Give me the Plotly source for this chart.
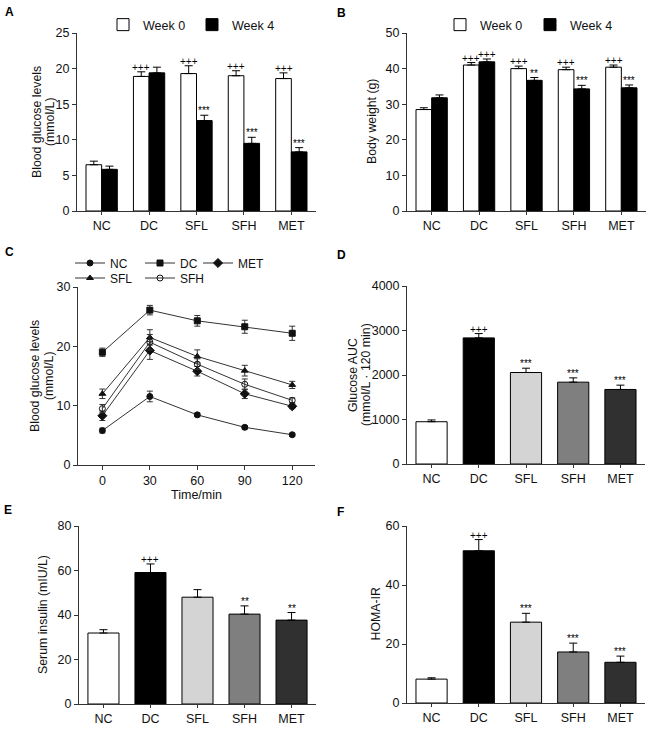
import plotly.graph_objects as go

W, H = 660, 733
groups = ["NC", "DC", "SFL", "SFH", "MET"]
group_colors = ["#ffffff", "#000000", "#d4d4d4", "#7f7f7f", "#303030"]

# Panel A: blood glucose (mmol/L)
glu_w0 = [6.5, 18.9, 19.3, 19.0, 18.6]
glu_w0_err = [0.5, 0.65, 1.1, 0.7, 0.8]
glu_w4 = [5.85, 19.4, 12.7, 9.5, 8.3]
glu_w4_err = [0.45, 0.8, 0.75, 0.85, 0.6]
glu_w0_sig = ["", "+++", "+++", "+++", "+++"]
glu_w4_sig = ["", "", "***", "***", "***"]

# Panel B: body weight (g)
bw_w0 = [28.5, 41.0, 40.0, 39.7, 40.4]
bw_w0_err = [0.5, 0.7, 0.7, 0.7, 0.6]
bw_w4 = [31.8, 41.9, 36.7, 34.3, 34.6]
bw_w4_err = [0.8, 0.8, 0.8, 1.0, 0.8]
bw_w0_sig = ["", "+++", "+++", "+++", "+++"]
bw_w4_sig = ["", "+++", "**", "***", "***"]

# Panel C: OGTT blood glucose (mmol/L)
time_min = [0, 30, 60, 90, 120]
ogtt_nc = [5.8, 11.55, 8.45, 6.35, 5.1]
ogtt_nc_err = [0.4, 0.9, 0.3, 0.3, 0.25]
ogtt_dc = [19.0, 26.1, 24.3, 23.3, 22.2]
ogtt_dc_err = [0.7, 0.8, 0.9, 1.1, 1.2]
ogtt_sfl = [12.0, 21.5, 18.3, 15.9, 13.5]
ogtt_sfl_err = [0.8, 1.3, 1.1, 0.9, 0.6]
ogtt_sfh = [9.5, 20.7, 17.0, 13.6, 10.9]
ogtt_sfh_err = [0.7, 1.3, 0.9, 0.9, 0.4]
ogtt_met = [8.3, 19.3, 15.8, 12.0, 9.9]
ogtt_met_err = [0.8, 1.5, 0.8, 0.8, 0.4]

# Panel D: glucose AUC
auc = [950, 2834, 2056, 1839, 1675]
auc_err = [40, 97, 97, 97, 97]
auc_sig = ["", "+++", "***", "***", "***"]

# Panel E: serum insulin (mIU/L)
insulin = [31.9, 59.1, 48.0, 40.4, 37.7]
insulin_err = [1.5, 3.85, 3.4, 3.7, 3.4]
insulin_sig = ["", "+++", "", "**", "**"]

# Panel F: HOMA-IR
homa = [8.1, 51.6, 27.4, 17.3, 13.8]
homa_err = [0.45, 3.8, 3.0, 3.0, 2.1]
homa_sig = ["", "+++", "***", "***", "***"]

FONT = "Arial, Liberation Sans, sans-serif"
AX = "#333333"
TXT = "#111111"

fig = go.Figure()

def px_x(a, b):
    return [a / W, b / W]

def px_y(top, bottom):
    return [1 - bottom / H, 1 - top / H]

domains = {
    "A": (px_x(77, 316), px_y(33, 211)),
    "B": (px_x(407, 646), px_y(33, 211)),
    "C": (px_x(78, 315), px_y(287, 465)),
    "D": (px_x(407, 645), px_y(286, 464)),
    "E": (px_x(79, 316), px_y(526, 704)),
    "F": (px_x(407, 645), px_y(526, 703)),
}
axis_ids = {"A": 1, "B": 2, "C": 3, "D": 4, "E": 5, "F": 6}

def err(arr):
    return dict(type="data", symmetric=False, array=arr, arrayminus=[0] * len(arr),
                color="#000000", thickness=1, width=4)

def xa(k):
    n = axis_ids[k]
    return "x" if n == 1 else f"x{n}"

def ya(k):
    n = axis_ids[k]
    return "y" if n == 1 else f"y{n}"

idx = list(range(len(groups)))
off = 0.165

# A
fig.add_trace(go.Bar(x=[i - off for i in idx], y=glu_w0, width=0.33, name="Week 0",
                     marker=dict(color="#ffffff", line=dict(color="#000000", width=1)),
                     error_y=err(glu_w0_err), xaxis=xa("A"), yaxis=ya("A"), legend="legend"))
fig.add_trace(go.Bar(x=[i + off for i in idx], y=glu_w4, width=0.33, name="Week 4",
                     marker=dict(color="#000000", line=dict(color="#000000", width=1)),
                     error_y=err(glu_w4_err), xaxis=xa("A"), yaxis=ya("A"), legend="legend"))
# B
fig.add_trace(go.Bar(x=[i - off for i in idx], y=bw_w0, width=0.33, name="Week 0",
                     marker=dict(color="#ffffff", line=dict(color="#000000", width=1)),
                     error_y=err(bw_w0_err), xaxis=xa("B"), yaxis=ya("B"), legend="legend2"))
fig.add_trace(go.Bar(x=[i + off for i in idx], y=bw_w4, width=0.33, name="Week 4",
                     marker=dict(color="#000000", line=dict(color="#000000", width=1)),
                     error_y=err(bw_w4_err), xaxis=xa("B"), yaxis=ya("B"), legend="legend2"))

# C
series_c = [
    ("NC", ogtt_nc, ogtt_nc_err, "circle", "legend3"),
    ("DC", ogtt_dc, ogtt_dc_err, "square", "legend3"),
    ("MET", ogtt_met, ogtt_met_err, "diamond", "legend5"),
    ("SFL", ogtt_sfl, ogtt_sfl_err, "triangle-up", "legend4"),
    ("SFH", ogtt_sfh, ogtt_sfh_err, "circle-open", "legend4"),
]
for name, vals, errs, sym, lg in series_c:
    fig.add_trace(go.Scatter(
        x=time_min, y=vals, name=name, mode="lines+markers",
        line=dict(color="#333333", width=1),
        marker=dict(symbol=sym, size=6 if sym != "diamond" else 7, color="#111111",
                    line=dict(color="#111111", width=1)),
        error_y=dict(type="data", array=errs, color="#333333", thickness=1, width=3),
        xaxis=xa("C"), yaxis=ya("C"), legend=lg))

# D, E, F
for k, vals, errs in [("D", auc, auc_err), ("E", insulin, insulin_err), ("F", homa, homa_err)]:
    fig.add_trace(go.Bar(x=idx, y=vals, width=0.66, showlegend=False,
                         marker=dict(color=group_colors, line=dict(color="#000000", width=1)),
                         error_y=err(errs), xaxis=xa(k), yaxis=ya(k)))

annotations = []

def sig_notes(k, xs, vals, errs, sigs):
    for x, v, e, s in zip(xs, vals, errs, sigs):
        if s:
            annotations.append(dict(x=x, y=v + e, xref=xa(k), yref=ya(k), text=s,
                                    showarrow=False, yanchor="bottom", yshift=-3,
                                    font=dict(size=10, color="#000000", family=FONT)))

sig_notes("A", [i - off for i in idx], glu_w0, glu_w0_err, glu_w0_sig)
sig_notes("A", [i + off for i in idx], glu_w4, glu_w4_err, glu_w4_sig)
sig_notes("B", [i - off for i in idx], bw_w0, bw_w0_err, bw_w0_sig)
sig_notes("B", [i + off for i in idx], bw_w4, bw_w4_err, bw_w4_sig)
sig_notes("D", idx, auc, auc_err, auc_sig)
sig_notes("E", idx, insulin, insulin_err, insulin_sig)
sig_notes("F", idx, homa, homa_err, homa_sig)

letters = [("A", 3, 12), ("B", 335, 13), ("C", 3, 252), ("D", 335, 255), ("E", 2, 510), ("F", 335, 512)]
for t, x, y in letters:
    annotations.append(dict(x=x / W, y=1 - y / H, xref="paper", yref="paper", text=f"<b>{t}</b>",
                            showarrow=False, xanchor="left", yanchor="middle",
                            font=dict(size=12, color="#000000", family=FONT)))

# y-axis titles (rotated text, one entry per line), centred on each panel's plot area
ytitle_lines = {
    "A": [("Blood glucose levels", 37), ("(mmol/L)", 50)],
    "B": [("Body weight (g)", 372)],
    "C": [("Blood glucose levels", 35), ("(mmol/L)", 49)],
    "D": [("Glucose AUC", 353), ("(mmol/L · 120 min)", 366)],
    "E": [("Serum insulin (mIU/L)", 43)],
    "F": [("HOMA-IR", 375)],
}
for k, lines in ytitle_lines.items():
    yd = domains[k][1]
    for t, xpx in lines:
        annotations.append(dict(x=xpx / W, y=(yd[0] + yd[1]) / 2, xref="paper", yref="paper",
                                text=t, textangle=-90, showarrow=False, xanchor="center", yanchor="middle",
                                font=dict(size=12.3, color=TXT, family=FONT)))

axis_common = dict(showline=True, linecolor=AX, linewidth=1, showgrid=False, zeroline=False,
                   automargin=False,
                   tickfont=dict(size=12.5, color=TXT, family=FONT), tickcolor=AX, ticklen=4,
                   tickwidth=1, title_font=dict(size=12.5, color=TXT, family=FONT))

yranges = {"A": (25, 5), "B": (50, 10), "C": (30, 10), "D": (4000, 1000), "E": (80, 20), "F": (60, 20)}

layout = {}
for k, n in axis_ids.items():
    xd, yd = domains[k]
    xkey = "xaxis" if n == 1 else f"xaxis{n}"
    ykey = "yaxis" if n == 1 else f"yaxis{n}"
    if k == "C":
        xcfg = dict(axis_common, domain=xd, anchor=ya(k), range=[-15.4, 134.4],
                    tickvals=time_min, ticks="outside", title_text="Time/min", title_standoff=2)
    else:
        xcfg = dict(axis_common, domain=xd, anchor=ya(k), range=[-0.52, 4.52],
                    tickvals=idx, ticktext=groups, ticks="outside", ticklen=3)
    ymax, dt = yranges[k]
    ycfg = dict(axis_common, domain=yd, anchor=xa(k), range=[0, ymax], dtick=dt,
                ticks="outside")
    layout[xkey] = xcfg
    layout[ykey] = ycfg

legend_common = dict(orientation="h", bgcolor="rgba(0,0,0,0)", font=dict(size=12.5, color=TXT, family=FONT),
                     itemwidth=30, yanchor="middle", xanchor="left", tracegroupgap=0,
                     itemclick=False, itemdoubleclick=False)

fig.update_layout(
    template="none",
    width=W, height=H, margin=dict(l=0, r=0, t=0, b=0, autoexpand=False),
    paper_bgcolor="#ffffff", plot_bgcolor="#ffffff",
    font=dict(family=FONT, color=TXT),
    barmode="overlay", showlegend=True, hovermode=False,
    annotations=annotations,
    legend=dict(legend_common, x=103 / W, y=1 - 25 / H, entrywidth=44),
    legend2=dict(legend_common, x=440 / W, y=1 - 25 / H, entrywidth=45),
    legend3=dict(legend_common, x=70 / W, y=1 - 263 / H, font=dict(size=12, color=TXT, family=FONT), entrywidth=25),
    legend4=dict(legend_common, x=70 / W, y=1 - 278 / H, font=dict(size=12, color=TXT, family=FONT), entrywidth=25),
    legend5=dict(legend_common, x=198 / W, y=1 - 263 / H, font=dict(size=12, color=TXT, family=FONT), entrywidth=25),
    **layout,
)

fig.write_html("out.html", config={"displayModeBar": False, "staticPlot": True},
               post_script="document.body.style.margin='0px';document.body.style.overflow='hidden';")
